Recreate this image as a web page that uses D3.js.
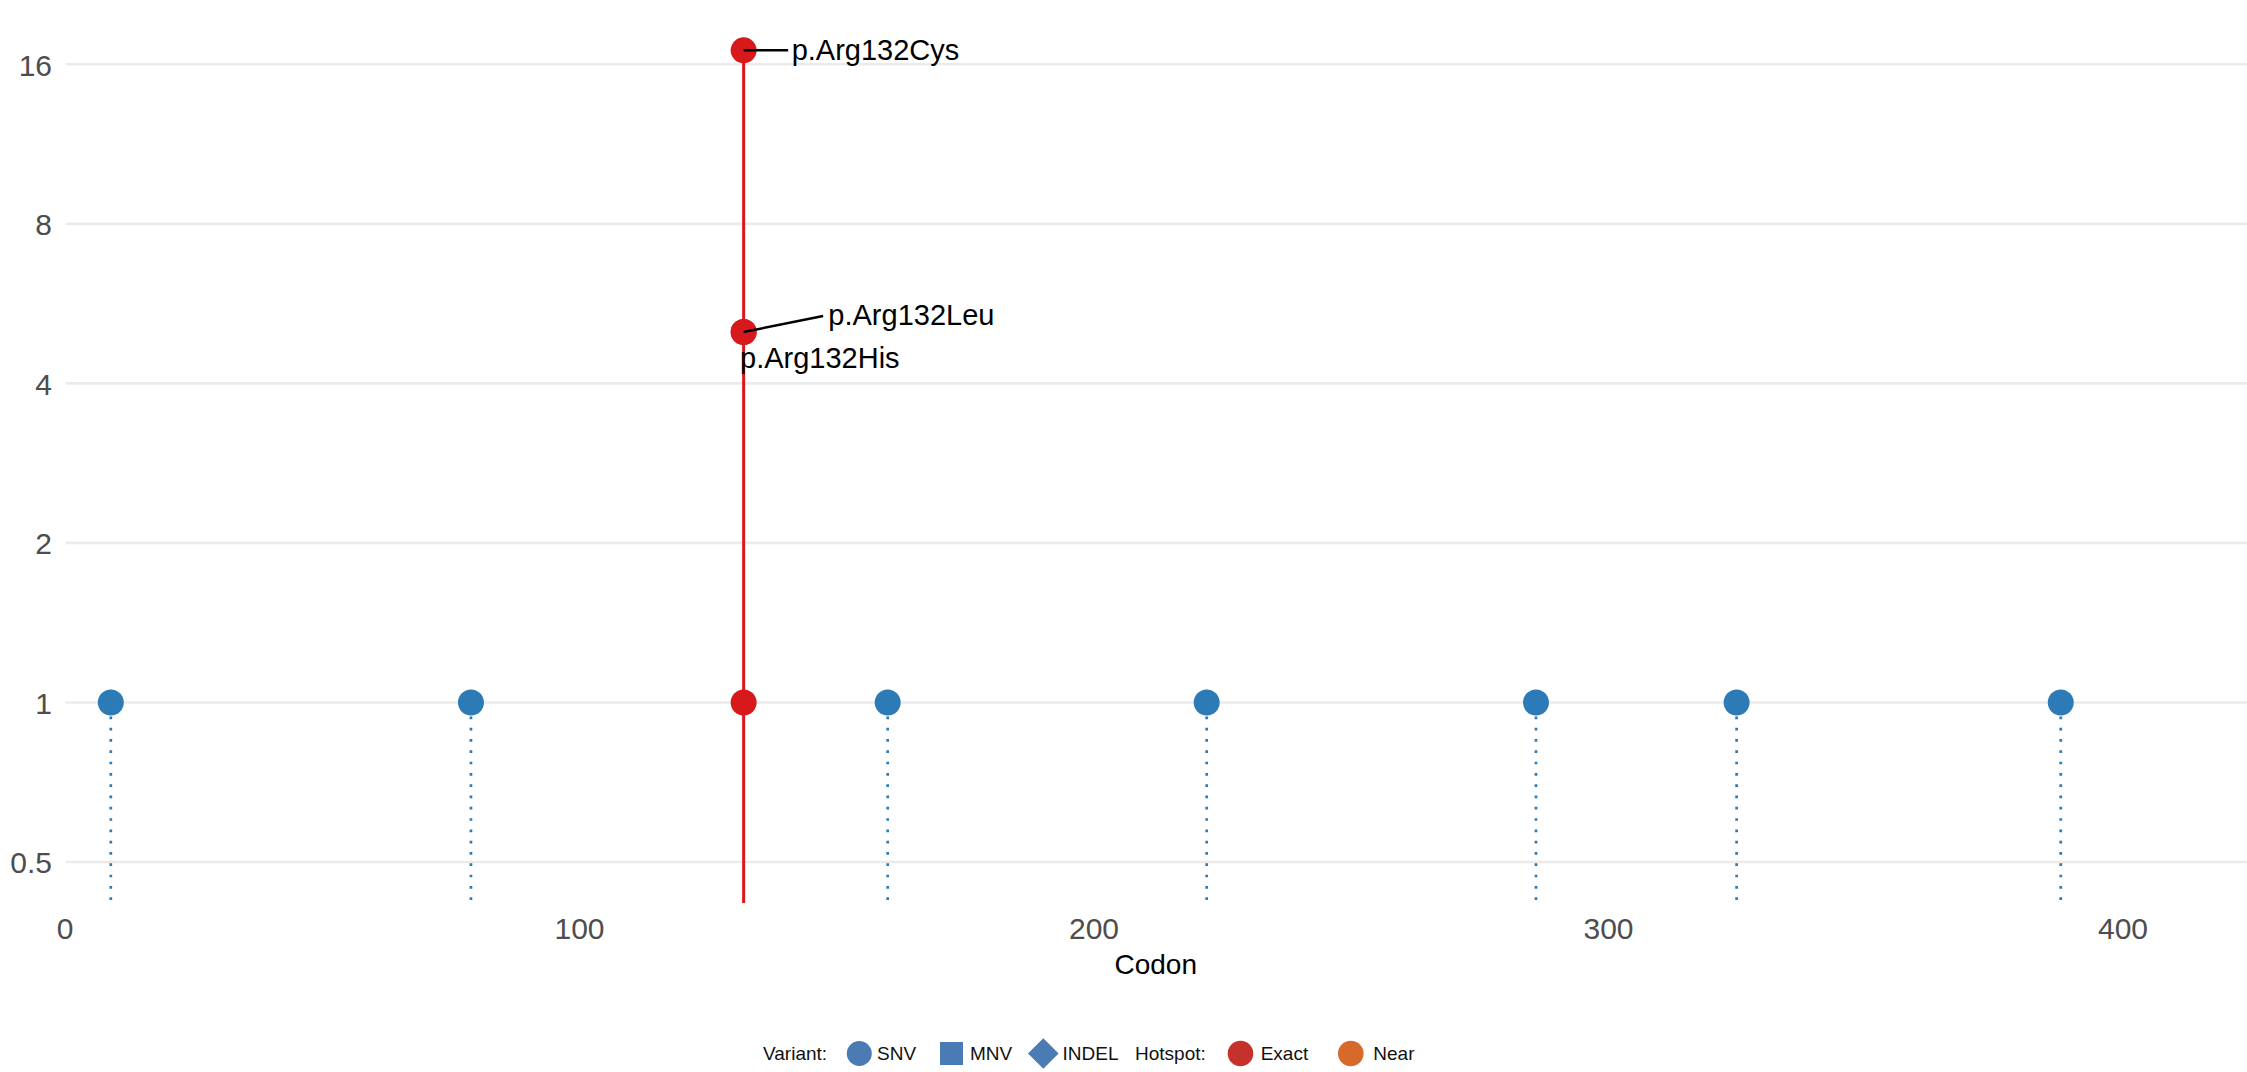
<!DOCTYPE html>
<html>
<head>
<meta charset="utf-8">
<script src="https://cdn.jsdelivr.net/npm/d3@7"></script>
<style>
  html, body { margin: 0; padding: 0; background: #fff; }
  svg { display: block; }
</style>
</head>
<body>
<script>
// ---- data ----
const codons   = [9, 79, 132, 132, 132, 132, 160, 222, 286, 325, 388];
const counts   = [1, 1, 1, 5, 5, 17, 1, 1, 1, 1, 1];
const hotspots = ["", "", "Exact", "Exact", "Exact", "Exact", "", "", "", "", ""];
const changes  = ["", "", "", "p.Arg132His", "p.Arg132Leu", "p.Arg132Cys", "", "", "", "", ""];
const yTicks = [0.5, 1, 2, 4, 8, 16];
const xTicks = [0, 100, 200, 300, 400];
const xDomain = [0, 424.2];
const legendVariant = ["SNV", "MNV", "INDEL"];
const legendHotspot = ["Exact", "Near"];

const W = 2247, H = 1072;
const svg = d3.select("body").append("svg").attr("width", W).attr("height", H);

const x = d3.scaleLinear().domain(xDomain).range([64.5, 2247]);
const y = d3.scaleLog().base(2).domain([0.5, 16]).range([862, 64.3]);
const plotBottom = 903;

const font = "'Liberation Sans', Arial, Helvetica, sans-serif";

// gridlines
svg.append("g").selectAll("line").data(yTicks).join("line")
  .attr("x1", 65.7).attr("x2", W)
  .attr("y1", d => y(d)).attr("y2", d => y(d))
  .attr("stroke", "#ebebeb").attr("stroke-width", 2.6);

// y axis labels
const yAxis = d3.axisLeft(y).tickValues(yTicks).tickFormat(d3.format("~g")).tickSize(0).tickPadding(0);
const gy = svg.append("g").attr("transform", "translate(52,0)").call(yAxis);
gy.select(".domain").remove();
gy.selectAll("text").attr("font-family", font).attr("font-size", 30).attr("fill", "#4d4d4d")
  .attr("dy", "0.36em").attr("x", 0);

// x axis labels
const xAxis = d3.axisBottom(x).tickValues(xTicks).tickFormat(d3.format("d")).tickSize(0).tickPadding(0);
const gx = svg.append("g").attr("transform", "translate(0,917)").call(xAxis);
gx.select(".domain").remove();
gx.selectAll("text").attr("font-family", font).attr("font-size", 30).attr("fill", "#4d4d4d")
  .attr("dy", "0.73em").attr("y", 0);

// x title
svg.append("text").attr("x", (x.range()[0] + x.range()[1]) / 2).attr("y", 974)
  .attr("text-anchor", "middle").attr("font-family", font).attr("font-size", 28)
  .attr("fill", "#000").text("Codon");

const data = codons.map((c, i) => ({ codon: c, count: counts[i], hot: hotspots[i], label: changes[i] }));
const blue = "#2c7bb6", red = "#d7191c";

// stems
const normal = data.filter(d => d.hot === "");
svg.append("g").selectAll("line").data(normal).join("line")
  .attr("x1", d => x(d.codon)).attr("x2", d => x(d.codon))
  .attr("y1", d => y(d.count) + 14).attr("y2", plotBottom)
  .attr("stroke", blue).attr("stroke-width", 2.7)
  .attr("stroke-dasharray", "2.7 8.6");

const hot = data.filter(d => d.hot !== "");
const hotCodons = Array.from(new Set(hot.map(d => d.codon)));
svg.append("g").selectAll("line").data(hotCodons).join("line")
  .attr("x1", d => x(d)).attr("x2", d => x(d))
  .attr("y1", d => y(d3.max(hot.filter(h => h.codon === d), h => h.count)))
  .attr("y2", plotBottom)
  .attr("stroke", red).attr("stroke-width", 3);

// points
svg.append("g").selectAll("circle").data(data).join("circle")
  .attr("cx", d => x(d.codon)).attr("cy", d => y(d.count)).attr("r", 13)
  .attr("fill", d => d.hot ? red : blue);

// labels (repelled placement offsets)
const labelOffsets = {
  "p.Arg132Cys": { dx: 48, dy: 0, line: [44.5, 0] },
  "p.Arg132Leu": { dx: 84.7, dy: -17, line: [79.5, -16] },
  "p.Arg132His": { dx: -3.6, dy: 26, line: null }
};
const labeled = data.filter(d => d.label);
const lg = svg.append("g");
labeled.forEach(d => {
  const o = labelOffsets[d.label];
  const px = x(d.codon), py = y(d.count);
  if (o.line) {
    lg.append("line").attr("x1", px).attr("y1", py)
      .attr("x2", px + o.line[0]).attr("y2", py + o.line[1])
      .attr("stroke", "#000").attr("stroke-width", 2.5);
  }
  lg.append("text").attr("x", px + o.dx).attr("y", py + o.dy).attr("dy", "0.35em")
    .attr("font-family", font).attr("font-size", 29).attr("fill", "#000").text(d.label);
});

// legend
const legFont = "'Liberation Sans', Arial, sans-serif";
const lgY = 1053.5, lgBase = 1060;
const leg = svg.append("g").attr("font-family", legFont).attr("font-size", 19).attr("fill", "#111");
leg.append("text").attr("x", 763).attr("y", lgBase).text("Variant:");
const vCol = "#4a7bb4";
leg.append("circle").attr("cx", 859.3).attr("cy", lgY).attr("r", 12.5).attr("fill", vCol);
leg.append("text").attr("x", 877).attr("y", lgBase).text(legendVariant[0]);
leg.append("rect").attr("x", 940).attr("y", lgY - 11.5).attr("width", 23).attr("height", 23).attr("fill", vCol);
leg.append("text").attr("x", 970).attr("y", lgBase).text(legendVariant[1]);
leg.append("rect").attr("x", -10.8).attr("y", -10.8).attr("width", 21.6).attr("height", 21.6)
  .attr("transform", `translate(1043.3,${lgY}) rotate(45)`).attr("fill", vCol);
leg.append("text").attr("x", 1062.5).attr("y", lgBase).text(legendVariant[2]);
leg.append("text").attr("x", 1135).attr("y", lgBase).text("Hotspot:");
leg.append("circle").attr("cx", 1240.5).attr("cy", lgY).attr("r", 12.8).attr("fill", "#c5322c");
leg.append("text").attr("x", 1260.7).attr("y", lgBase).text(legendHotspot[0]);
leg.append("circle").attr("cx", 1350.8).attr("cy", lgY).attr("r", 12.8).attr("fill", "#d7692b");
leg.append("text").attr("x", 1373.3).attr("y", lgBase).text(legendHotspot[1]);
</script>
</body>
</html>
